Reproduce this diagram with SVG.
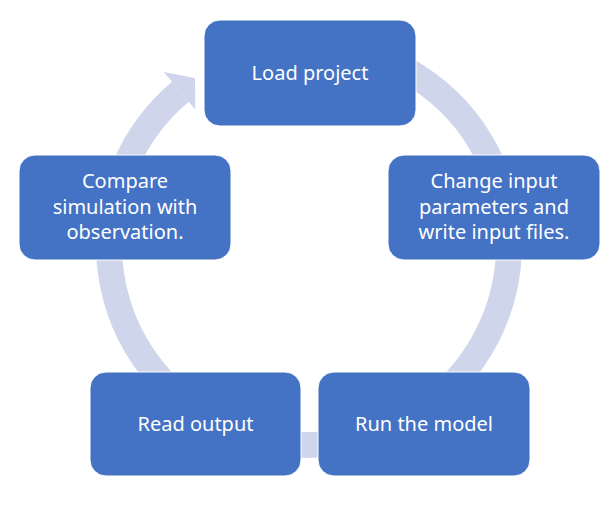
<svg xmlns="http://www.w3.org/2000/svg" width="615" height="522" viewBox="0 0 615 522">
<style>
.box{fill:#4472C4;stroke:#ffffff;stroke-width:1}
.lbl{fill:#ffffff;font-family:"Noto Sans","Open Sans","Liberation Sans",sans-serif;font-size:20px;text-anchor:middle}
.ring{fill:none;stroke:#CFD5EA;stroke-width:26}
</style>
<rect width="615" height="522" fill="#ffffff"/>
<g id="connectors">
<path class="ring" d="M 224.5 63.7 A 200 200 0 1 1 180.4 91.8"/>
<polygon points="163.7,71.9 195,78 195.2,109.4" fill="#CFD5EA"/>
</g>
<g id="load-project">
<rect class="box" x="204" y="20" width="212" height="106" rx="16"/>
<text class="lbl" x="310" y="80">Load project</text>
</g>
<g id="change-input">
<rect class="box" x="388" y="155" width="212" height="105" rx="16"/>
<text class="lbl" x="494" y="188">Change input</text>
<text class="lbl" x="494" y="213.5">parameters and</text>
<text class="lbl" x="494" y="239">write input files.</text>
</g>
<g id="run-model">
<rect class="box" x="318" y="372" width="212" height="104" rx="16"/>
<text class="lbl" x="424" y="431">Run the model</text>
</g>
<g id="read-output">
<rect class="box" x="90" y="372" width="211" height="104" rx="16"/>
<text class="lbl" x="195.5" y="431">Read output</text>
</g>
<g id="compare">
<rect class="box" x="19" y="155" width="212" height="105" rx="16"/>
<text class="lbl" x="125" y="188">Compare</text>
<text class="lbl" x="125" y="213.5">simulation with</text>
<text class="lbl" x="125" y="239">observation.</text>
</g>
</svg>
